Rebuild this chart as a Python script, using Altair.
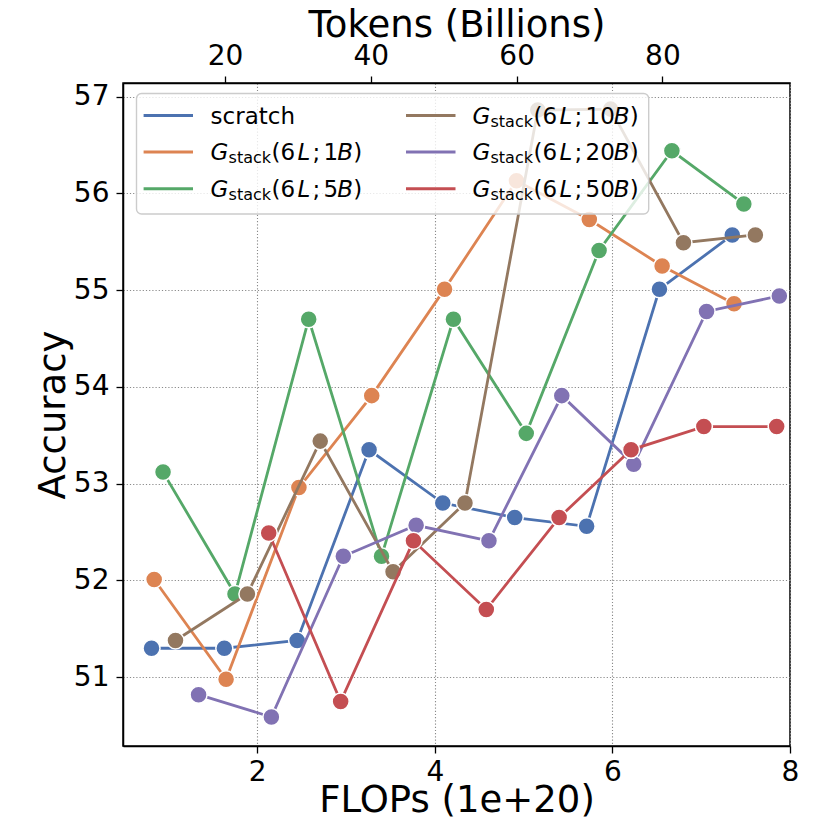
import altair as alt
import pandas as pd

FONT = "DejaVu Sans"

# ---------------- data ----------------
SERIES = ["scratch", "1B", "5B", "10B", "20B", "50B"]
COLORS = ["#4C72B0", "#DD8452", "#55A868", "#937860", "#8172B3", "#C44E52"]

flops_scratch = [0.81, 1.63, 2.45, 3.26, 4.09, 4.90, 5.71, 6.53, 7.35]
acc_scratch = [51.30, 51.30, 51.38, 53.35, 52.80, 52.65, 52.56, 55.01, 55.57]

flops_1b = [0.84, 1.65, 2.47, 3.29, 4.11, 4.92, 5.74, 6.56, 7.37]
acc_1b = [52.01, 50.98, 52.96, 53.91, 55.01, 56.13, 55.73, 55.25, 54.86]

flops_5b = [0.94, 1.75, 2.58, 3.40, 4.21, 5.03, 5.85, 6.67, 7.48]
acc_5b = [53.12, 51.86, 54.70, 52.25, 54.70, 53.52, 55.41, 56.44, 55.89]

flops_10b = [1.08, 1.89, 2.71, 3.53, 4.34, 5.16, 5.98, 6.80, 7.61]
acc_10b = [51.38, 51.86, 53.44, 52.09, 52.80, 56.86, 56.87, 55.49, 55.57]

flops_20b = [1.34, 2.16, 2.97, 3.79, 4.61, 5.43, 6.24, 7.06, 7.88]
acc_20b = [50.82, 50.59, 52.25, 52.57, 52.41, 53.91, 53.20, 54.78, 54.94]

flops_50b = [2.13, 2.94, 3.76, 4.58, 5.40, 6.21, 7.03, 7.85]
acc_50b = [52.49, 50.75, 52.41, 51.70, 52.65, 53.35, 53.59, 53.59]

X_TICKS = [2, 4, 6, 8]
Y_TICKS = [51, 52, 53, 54, 55, 56, 57]
TOKEN_TICKS = [20, 40, 60, 80]
LEGEND_TOKENS = [None, "1", "5", "10", "20", "50"]

# ---------------- layout ----------------
W, H = 667, 663
X_DOMAIN = [0.489, 8.0]
Y_DOMAIN = [50.29, 57.14]
TOK_DOMAIN = [6.0, 97.5]

FLOPS = [flops_scratch, flops_1b, flops_5b, flops_10b, flops_20b, flops_50b]
ACCS = [acc_scratch, acc_1b, acc_5b, acc_10b, acc_20b, acc_50b]

rows = []
for s, fx, ay in zip(SERIES, FLOPS, ACCS):
    for f, a in zip(fx, ay):
        rows.append({"series": s, "flops": f, "acc": a})
df = pd.DataFrame(rows)

common_axis = dict(
    labelFont=FONT, titleFont=FONT, labelFontSize=28, titleFontSize=37,
    titleFontWeight="normal", labelColor="black", titleColor="black",
    tickColor="black", tickWidth=1.3, tickSize=7, domainColor="black",
    domainWidth=1.5, labelFlush=False, labelOverlap=False,
)

x_axis = alt.Axis(
    values=X_TICKS, format="d", title="FLOPs (1e+20)", grid=True,
    gridDash=[1.2, 2.0], gridColor="#8a8a8a", gridWidth=1.1,
    labelPadding=5, titleY=65, titleBaseline="alphabetic", titleAlign="center",
    **common_axis,
)
y_axis = alt.Axis(
    values=Y_TICKS, format="d", title="Accuracy", grid=True,
    gridDash=[1.2, 2.0], gridColor="#8a8a8a", gridWidth=1.1,
    labelPadding=7, titleX=-59, titleY=H / 2, titleAngle=270,
    titleBaseline="alphabetic", titleAlign="center",
    **common_axis,
)

X = alt.X("flops:Q", scale=alt.Scale(domain=X_DOMAIN, nice=False, zero=False), axis=x_axis)
Y = alt.Y("acc:Q", scale=alt.Scale(domain=Y_DOMAIN, nice=False, zero=False), axis=y_axis)

series_layers = []
for s, c in zip(SERIES, COLORS):
    base = alt.Chart(df).transform_filter(alt.datum.series == s)
    series_layers.append(base.mark_line(color=c, strokeWidth=2.8).encode(x=X, y=Y))
    series_layers.append(
        base.mark_circle(size=290, fill=c, opacity=1, stroke="white", strokeWidth=1.5).encode(x=X, y=Y)
    )
main = alt.layer(*series_layers)

# ---------------- top (tokens) axis ----------------
tok_df = pd.DataFrame({"tok": TOKEN_TICKS})
top = alt.Chart(tok_df).mark_point(opacity=0).encode(
    x=alt.X(
        "tok:Q",
        scale=alt.Scale(domain=TOK_DOMAIN, nice=False, zero=False),
        axis=alt.Axis(
            orient="top", values=TOKEN_TICKS, format="d", grid=False,
            title="Tokens (Billions)", labelPadding=6, titleY=-47,
            titleBaseline="alphabetic", titleAlign="center", **common_axis,
        ),
    )
)

# ---------------- legend (custom, to get G_stack with subscript) ----------------
ROW_Y = [32.6, 69.0, 105.7]
COLS = [(20.6, 70.0, 87.6), (283.0, 332.5, 349.5)]
BASE_OFF = 8.0
SUB_OFF = 11.0
DIGIT_W = 14.6

sw_rows, norm_rows, ital_rows, sub_rows = [], [], [], []
for i, (s, c, t) in enumerate(zip(SERIES, COLORS, LEGEND_TOKENS)):
    col = i // 3
    r = i % 3
    x0, x1, tx = COLS[col]
    yc = ROW_Y[r]
    sw_rows.append({"px": x0, "px2": x1, "py": yc, "c": c})
    yb = yc + BASE_OFF
    if t is None:
        norm_rows.append({"px": tx, "py": yb, "t": s})
        continue
    bx = tx + 113 + DIGIT_W * len(t) - 1
    ital_rows += [
        {"px": tx, "py": yb, "t": "G"},
        {"px": tx + 87, "py": yb, "t": "L"},
        {"px": bx, "py": yb, "t": "B"},
    ]
    sub_rows.append({"px": tx + 18, "py": yc + SUB_OFF, "t": "stack"})
    norm_rows += [
        {"px": tx + 61, "py": yb, "t": "(6"},
        {"px": tx + 102, "py": yb, "t": ";"},
        {"px": tx + 113, "py": yb, "t": t},
        {"px": bx + 16, "py": yb, "t": ")"},
    ]

PX = alt.X("px:Q", scale=None, axis=None)
PY = alt.Y("py:Q", scale=None, axis=None)

box_df = pd.DataFrame([{"px": 13.5, "px2": 525.7, "py": 10.5, "py2": 131.0}])
box = alt.Chart(box_df).mark_rect(
    cornerRadius=5, fill="white", fillOpacity=0.8, stroke="#cccccc", strokeWidth=1.4
).encode(x=PX, x2="px2:Q", y=PY, y2="py2:Q")

swatches = alt.Chart(pd.DataFrame(sw_rows)).mark_rule(strokeWidth=3).encode(
    x=PX, x2="px2:Q", y=PY, color=alt.Color("c:N", scale=None)
)
txt_norm = alt.Chart(pd.DataFrame(norm_rows)).mark_text(
    align="left", baseline="alphabetic", font=FONT, fontSize=23, color="black"
).encode(x=PX, y=PY, text="t:N")
txt_ital = alt.Chart(pd.DataFrame(ital_rows)).mark_text(
    align="left", baseline="alphabetic", font=FONT, fontSize=23, fontStyle="italic", color="black"
).encode(x=PX, y=PY, text="t:N")
txt_sub = alt.Chart(pd.DataFrame(sub_rows)).mark_text(
    align="left", baseline="alphabetic", font=FONT, fontSize=16, color="black"
).encode(x=PX, y=PY, text="t:N")

legend = alt.layer(box, swatches, txt_norm, txt_ital, txt_sub)

chart = (
    alt.layer(main, top, legend)
    .resolve_scale(x="independent", y="independent")
    .properties(
        width=W, height=H,
        padding={"left": 115, "top": 75, "right": 25, "bottom": 74},
        autosize=alt.AutoSizeParams(type="none"),
    )
    .configure_view(stroke="black", strokeWidth=1.5)
)

chart.save("out.html", embed_options={"renderer": "svg", "actions": False})
